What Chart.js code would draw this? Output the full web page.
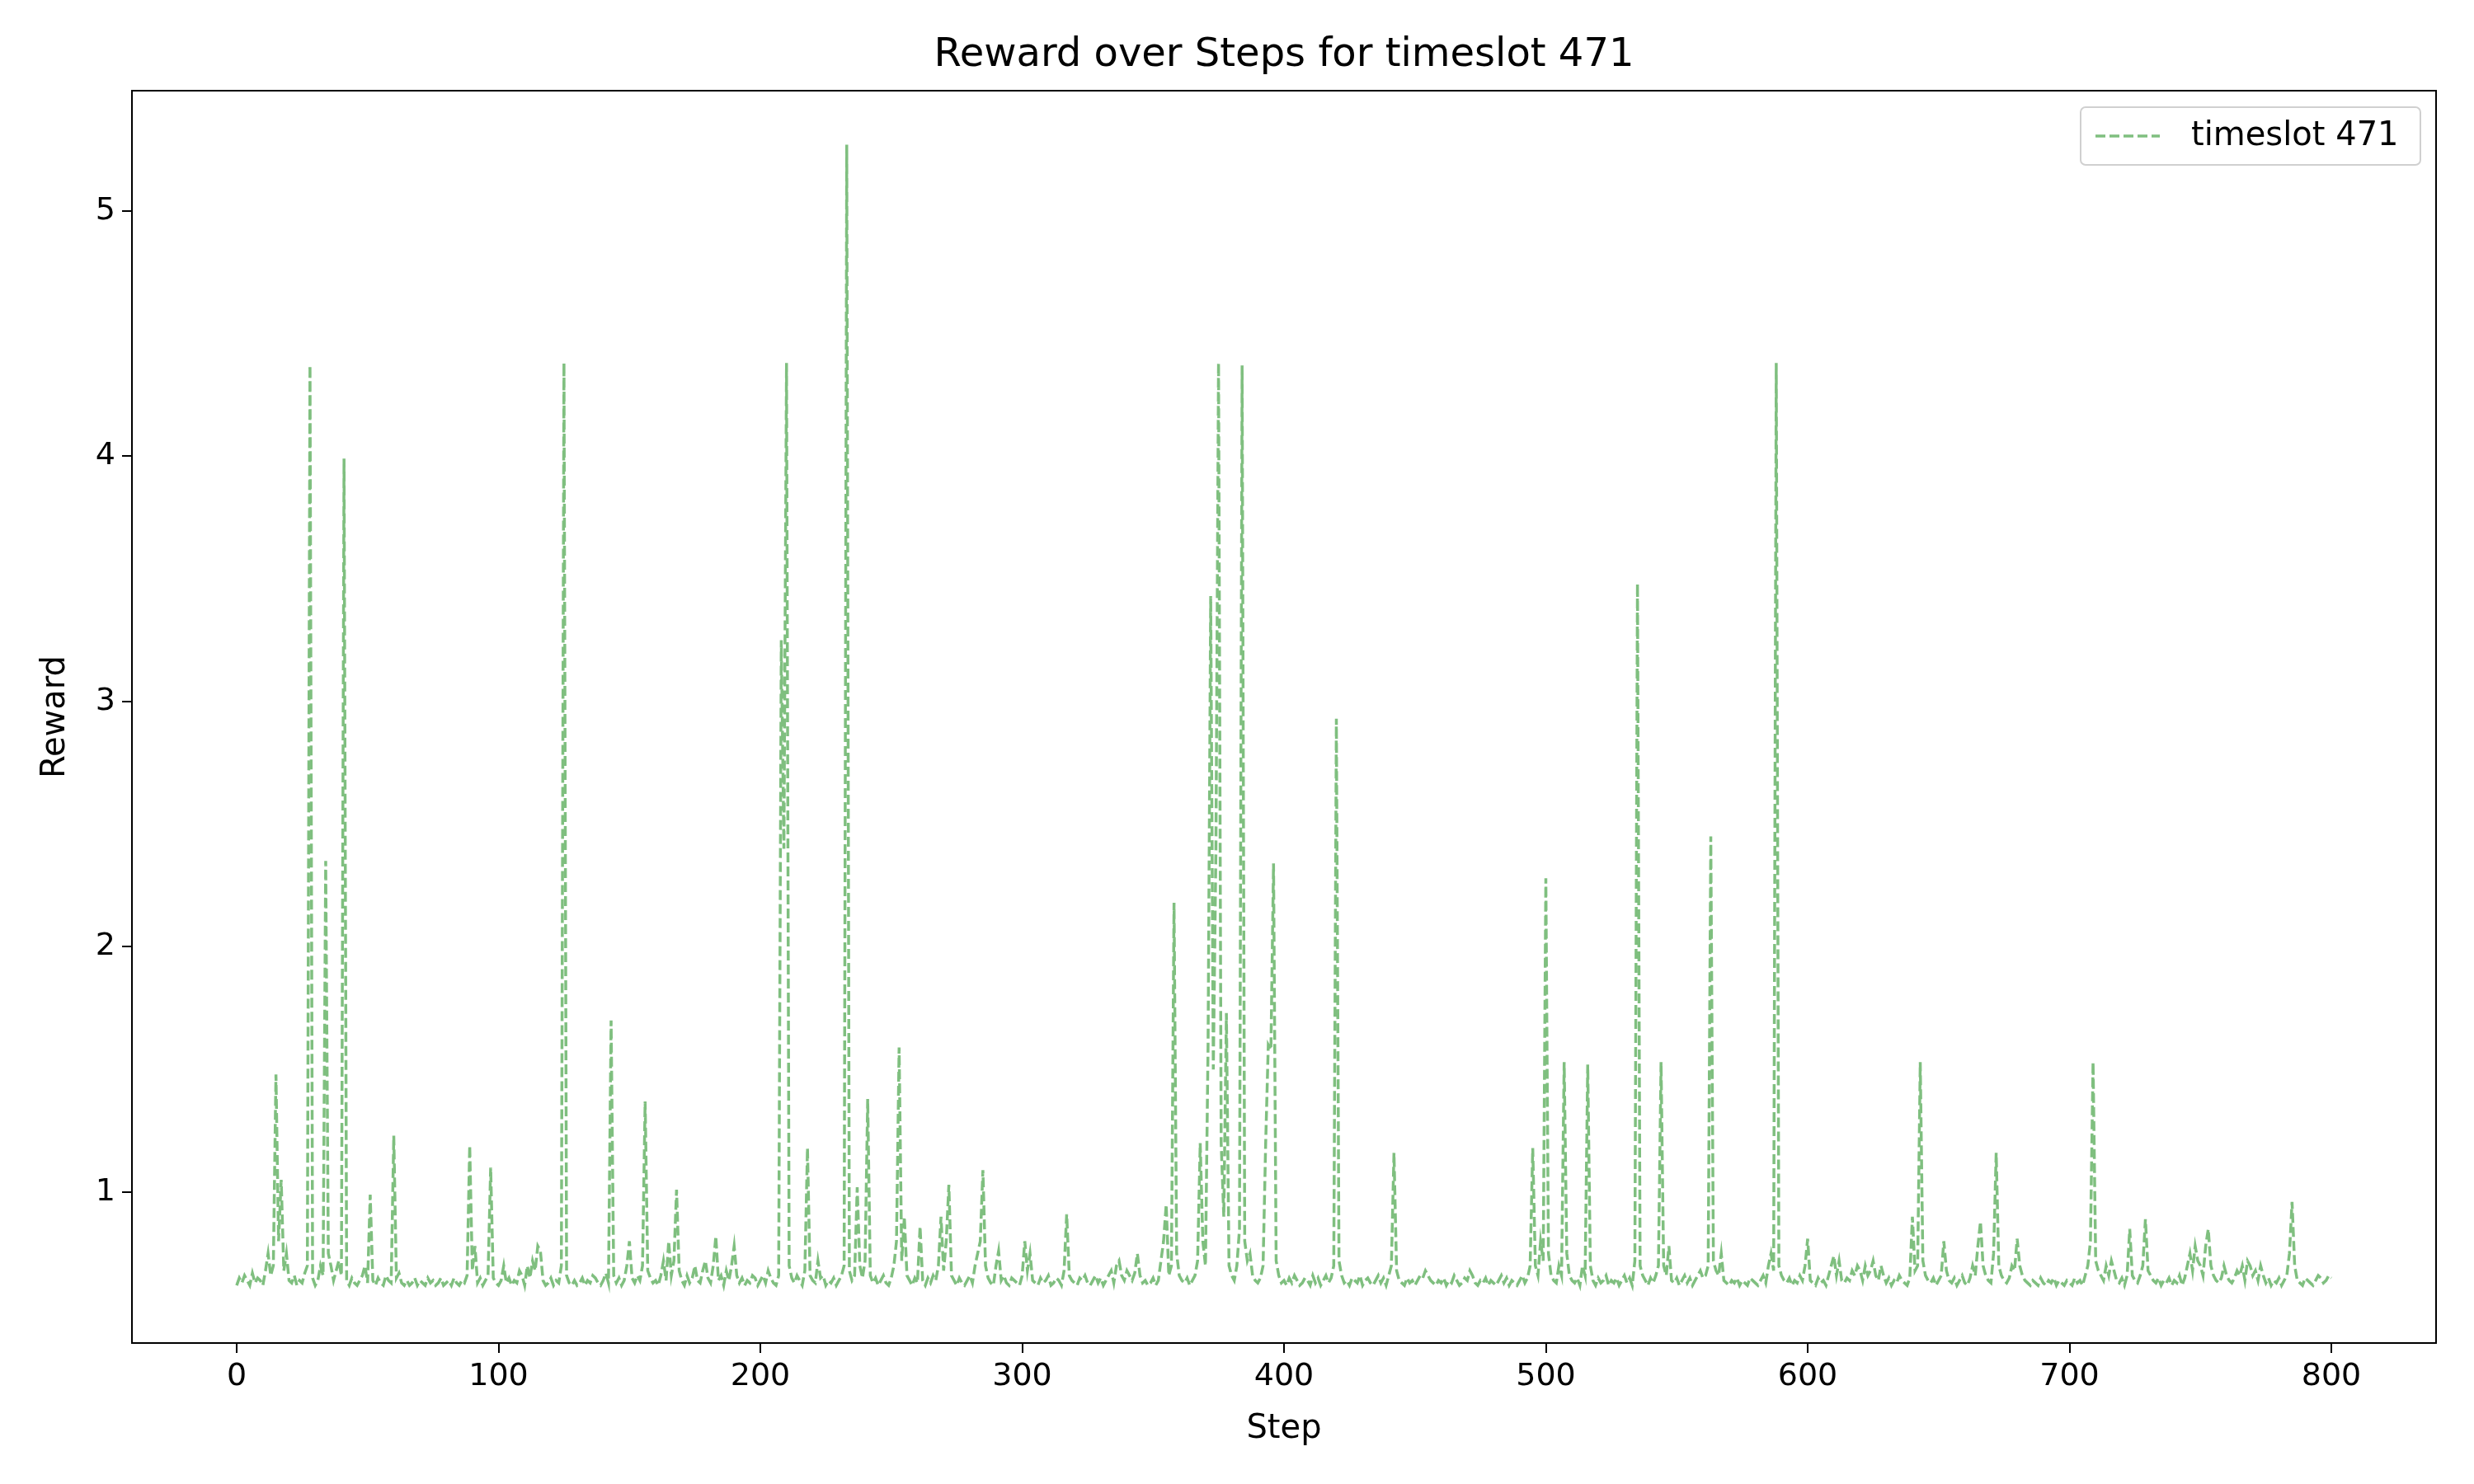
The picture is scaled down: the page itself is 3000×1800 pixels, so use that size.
<!DOCTYPE html>
<html><head><meta charset="utf-8">
<script src="https://cdn.jsdelivr.net/npm/chart.js@4"></script>
<style>html,body{margin:0;padding:0;background:#fff}</style>
</head><body>
<canvas id="c" width="3000" height="1800"></canvas>
<script>
const titleText = "Reward over Steps for timeslot 471";
const seriesLabel = "timeslot 471";
const xTicks = [0,100,200,300,400,500,600,700,800];
const yTicks = [1,2,3,4,5];
const reward = [
0.62,0.65,0.63,0.66,0.64,0.62,0.67,0.63,0.65,0.64,0.62,0.68,0.75,0.66,0.70,1.48,0.80,1.05,0.68,0.75,
0.64,0.63,0.66,0.62,0.64,0.63,0.67,0.70,4.37,0.65,0.62,0.64,0.70,0.66,2.35,0.75,0.70,0.64,0.68,0.72,
0.66,3.99,0.64,0.62,0.65,0.63,0.62,0.64,0.66,0.70,0.63,0.99,0.64,0.62,0.65,0.63,0.62,0.66,0.64,0.63,
1.23,0.65,0.67,0.63,0.62,0.64,0.62,0.63,0.65,0.62,0.64,0.63,0.62,0.65,0.63,0.64,0.62,0.63,0.65,0.62,
0.63,0.64,0.62,0.65,0.63,0.62,0.64,0.63,0.66,1.19,0.68,0.78,0.63,0.65,0.62,0.64,0.66,1.10,0.65,0.63,
0.62,0.64,0.70,0.63,0.65,0.62,0.64,0.63,0.68,0.66,0.62,0.70,0.65,0.72,0.68,0.78,0.76,0.64,0.62,0.63,
0.65,0.62,0.64,0.63,0.70,4.38,0.66,0.63,0.62,0.64,0.62,0.63,0.65,0.62,0.64,0.63,0.66,0.65,0.63,0.62,
0.64,0.67,0.63,1.70,0.66,0.63,0.65,0.62,0.64,0.70,0.80,0.65,0.63,0.66,0.64,0.70,1.37,0.68,0.65,0.63,
0.64,0.62,0.66,0.72,0.64,0.80,0.66,0.72,1.01,0.68,0.64,0.62,0.66,0.63,0.65,0.70,0.64,0.63,0.68,0.72,
0.65,0.63,0.70,0.82,0.64,0.66,0.62,0.68,0.64,0.70,0.78,0.66,0.63,0.65,0.62,0.64,0.63,0.66,0.65,0.62,
0.64,0.66,0.63,0.68,0.65,0.63,0.62,0.66,3.25,2.40,4.38,0.70,0.65,0.63,0.66,0.64,0.62,0.68,1.18,0.66,
0.64,0.63,0.72,0.65,0.66,0.62,0.64,0.63,0.65,0.62,0.64,0.66,0.70,5.27,0.68,0.64,0.66,1.02,0.70,0.65,
0.72,1.38,0.66,0.63,0.65,0.62,0.64,0.66,0.63,0.62,0.65,0.70,0.80,1.59,0.72,0.90,0.66,0.64,0.62,0.65,
0.63,0.86,0.64,0.62,0.65,0.63,0.66,0.64,0.70,0.90,0.68,0.80,1.03,0.66,0.64,0.62,0.65,0.63,0.62,0.64,
0.66,0.63,0.70,0.75,0.80,1.09,0.70,0.65,0.63,0.62,0.70,0.76,0.64,0.66,0.63,0.62,0.65,0.64,0.63,0.62,
0.66,0.80,0.68,0.75,0.64,0.63,0.62,0.65,0.63,0.64,0.66,0.62,0.63,0.65,0.64,0.62,0.68,0.91,0.66,0.64,
0.63,0.62,0.65,0.64,0.66,0.63,0.62,0.64,0.66,0.63,0.65,0.62,0.64,0.66,0.68,0.63,0.70,0.72,0.66,0.64,
0.68,0.66,0.64,0.67,0.75,0.66,0.63,0.64,0.62,0.63,0.65,0.62,0.64,0.72,0.80,0.95,0.66,0.70,2.18,0.75,
0.66,0.64,0.63,0.65,0.62,0.64,0.66,0.72,1.20,0.80,0.70,1.60,3.43,1.50,2.40,4.38,1.20,0.90,1.73,0.70,
0.66,0.64,0.70,0.85,4.37,0.80,0.72,0.75,0.66,0.64,0.63,0.65,0.70,1.20,1.60,1.58,2.34,0.72,0.66,0.63,
0.64,0.62,0.65,0.63,0.66,0.64,0.62,0.63,0.65,0.64,0.62,0.66,0.63,0.65,0.62,0.64,0.66,0.63,0.65,0.70,
2.93,0.72,0.66,0.63,0.64,0.62,0.65,0.64,0.63,0.66,0.62,0.64,0.65,0.63,0.62,0.64,0.66,0.63,0.65,0.62,
0.66,0.70,1.16,0.68,0.64,0.63,0.62,0.65,0.63,0.64,0.62,0.64,0.66,0.65,0.68,0.66,0.64,0.63,0.62,0.64,
0.63,0.65,0.62,0.64,0.63,0.66,0.64,0.62,0.63,0.65,0.64,0.68,0.66,0.63,0.62,0.64,0.63,0.65,0.62,0.64,
0.63,0.62,0.64,0.66,0.63,0.65,0.62,0.64,0.63,0.62,0.64,0.66,0.63,0.65,0.70,1.18,0.70,0.66,0.80,0.72,
2.28,0.75,0.66,0.64,0.63,0.70,0.66,1.53,0.75,0.66,0.64,0.63,0.65,0.62,0.70,0.66,1.52,0.70,0.64,0.62,
0.65,0.63,0.64,0.66,0.62,0.64,0.63,0.65,0.62,0.64,0.66,0.63,0.65,0.62,0.72,3.48,0.70,0.66,0.64,0.62,
0.65,0.63,0.66,0.70,1.53,0.70,0.66,0.78,0.64,0.63,0.65,0.62,0.64,0.66,0.63,0.65,0.62,0.64,0.66,0.68,
0.65,0.66,0.70,2.45,0.72,0.68,0.66,0.75,0.64,0.63,0.62,0.64,0.63,0.65,0.62,0.64,0.63,0.62,0.65,0.64,
0.63,0.62,0.64,0.66,0.63,0.70,0.75,0.68,4.38,0.70,0.66,0.64,0.63,0.65,0.62,0.64,0.63,0.66,0.64,0.70,
0.81,0.64,0.63,0.62,0.65,0.63,0.64,0.62,0.66,0.70,0.74,0.66,0.72,0.64,0.63,0.65,0.64,0.68,0.66,0.70,
0.68,0.64,0.70,0.66,0.68,0.72,0.66,0.64,0.70,0.66,0.63,0.65,0.62,0.64,0.63,0.66,0.64,0.63,0.62,0.65,
0.90,0.68,0.70,1.53,0.72,0.66,0.64,0.63,0.65,0.62,0.64,0.66,0.80,0.68,0.64,0.63,0.65,0.62,0.64,0.66,
0.63,0.62,0.65,0.70,0.66,0.78,0.88,0.70,0.66,0.64,0.63,0.75,1.16,0.70,0.66,0.64,0.63,0.65,0.70,0.68,
0.81,0.70,0.66,0.64,0.63,0.62,0.64,0.63,0.62,0.65,0.63,0.62,0.64,0.63,0.65,0.62,0.64,0.63,0.62,0.64,
0.63,0.62,0.65,0.63,0.64,0.62,0.66,0.70,0.80,1.53,0.72,0.68,0.66,0.64,0.70,0.66,0.72,0.68,0.64,0.63,
0.65,0.62,0.66,0.85,0.66,0.64,0.63,0.66,0.70,0.89,0.68,0.66,0.64,0.63,0.65,0.62,0.64,0.63,0.65,0.62,
0.64,0.63,0.66,0.62,0.65,0.70,0.75,0.68,0.78,0.72,0.70,0.66,0.78,0.85,0.70,0.66,0.64,0.63,0.65,0.70,
0.66,0.64,0.63,0.65,0.68,0.66,0.70,0.64,0.72,0.70,0.66,0.68,0.64,0.70,0.66,0.63,0.65,0.62,0.64,0.63,
0.65,0.62,0.64,0.66,0.75,0.96,0.70,0.64,0.63,0.62,0.65,0.64,0.63,0.62,0.64,0.66,0.65,0.63,0.64,0.66,
0.65
];
const steps = reward.map((_, i) => i);
const lineColor = 'rgba(0,128,0,0.5)';
const FONT = 'DejaVu Sans';

const deco = {
  id: 'deco',
  afterDraw(chart) {
    const ctx = chart.ctx, a = chart.chartArea;
    ctx.save();
    ctx.strokeStyle = '#000'; ctx.lineWidth = 2;
    ctx.strokeRect(a.left, a.top, a.right - a.left, a.bottom - a.top);
    ctx.fillStyle = '#000'; ctx.textAlign = 'center'; ctx.textBaseline = 'middle';
    ctx.font = `48px "${FONT}"`;
    ctx.fillText(titleText, (a.left + a.right) / 2, 68);
    ctx.font = `40px "${FONT}"`;
    ctx.fillText('Step', (a.left + a.right) / 2, 1734);
    ctx.save(); ctx.translate(68, (a.top + a.bottom) / 2); ctx.rotate(-Math.PI / 2);
    ctx.fillText('Reward', 0, 0); ctx.restore();
    // legend
    const lx = 2523, ly = 130, lw = 412, lh = 70;
    ctx.fillStyle = 'rgba(255,255,255,0.8)';
    ctx.strokeStyle = '#d0d0d0'; ctx.lineWidth = 2;
    ctx.beginPath(); ctx.roundRect(lx, ly, lw, lh, 6); ctx.fill(); ctx.stroke();
    ctx.strokeStyle = lineColor; ctx.lineWidth = 3.5; ctx.setLineDash([12, 5]);
    ctx.beginPath(); ctx.moveTo(lx + 18, ly + lh / 2); ctx.lineTo(lx + 96, ly + lh / 2); ctx.stroke();
    ctx.setLineDash([]);
    ctx.fillStyle = '#000'; ctx.textAlign = 'left'; ctx.font = `40px "${FONT}"`;
    ctx.fillText(seriesLabel, lx + 134, ly + lh / 2 + 1);
    ctx.restore();
  }
};

new Chart(document.getElementById('c'), {
  type: 'line',
  data: { labels: steps, datasets: [{ label: seriesLabel, data: steps.map((s, i) => ({ x: s, y: reward[i] })),
    borderColor: lineColor, borderWidth: 3.5, borderDash: [12, 5], pointRadius: 0, tension: 0, fill: false }] },
  options: {
    responsive: false, devicePixelRatio: 1, animation: false,
    layout: { padding: { top: 110, right: 46, left: 0, bottom: 0 } },
    plugins: { legend: { display: false }, title: { display: false }, tooltip: { enabled: false } },
    scales: {
      x: { type: 'linear', min: -40, max: 840,
        afterBuildTicks: s => { s.ticks = xTicks.map(v => ({ value: v })); },
        afterFit: s => { s.height = 171; },
        grid: { drawOnChartArea: false, drawTicks: true, tickLength: 12, color: '#000', lineWidth: 2 },
        border: { display: false },
        ticks: { color: '#000', font: { family: FONT, size: 38 }, padding: 6, maxRotation: 0 } },
      y: { min: 0.385, max: 5.49,
        afterBuildTicks: s => { s.ticks = yTicks.map(v => ({ value: v })); },
        afterFit: s => { s.width = 160; },
        grid: { drawOnChartArea: false, drawTicks: true, tickLength: 12, color: '#000', lineWidth: 2 },
        border: { display: false },
        ticks: { color: '#000', font: { family: FONT, size: 38 }, padding: 8 } }
    }
  },
  plugins: [deco]
});
</script>
</body></html>
